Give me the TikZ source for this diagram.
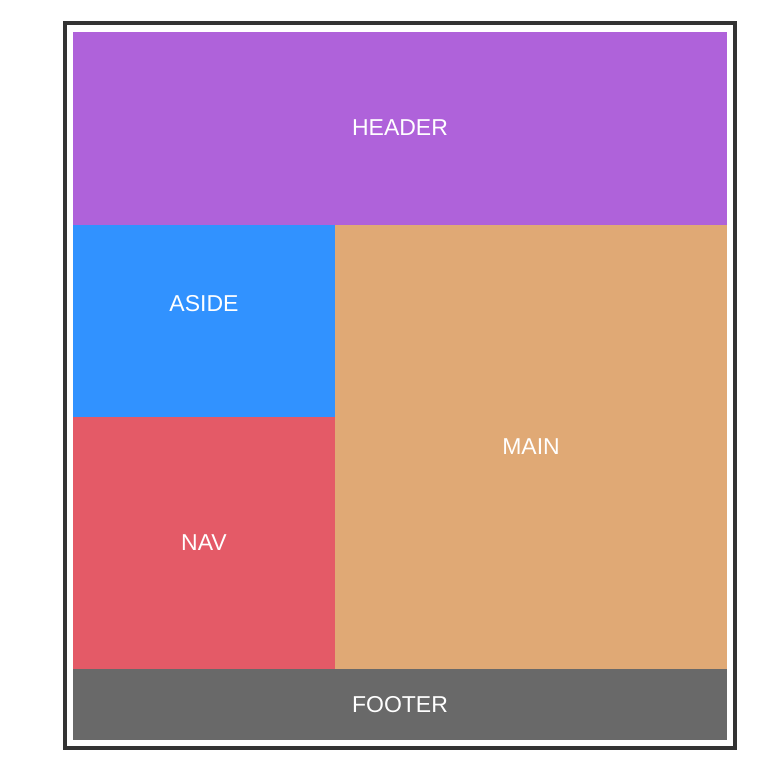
\documentclass[tikz,border=0pt]{standalone}
\usepackage{fontspec}
\setmainfont{Liberation Sans}
\definecolor{hdr}{HTML}{AF62DA}
\definecolor{asd}{HTML}{3192FF}
\definecolor{mn}{HTML}{E0A975}
\definecolor{nv}{HTML}{E45A67}
\definecolor{ft}{HTML}{696969}
\definecolor{brd}{HTML}{333333}
\begin{document}
\begin{tikzpicture}[x=1pt,y=-1pt,
  area/.style={draw=none,inner sep=0pt,text=white,font=\fontsize{23}{27}\selectfont}]
\useasboundingbox[fill=white] (0,0) rectangle (774,774);
\draw[brd,line width=4.5pt] (65,23) rectangle (735,748);
\fill[hdr] (73,32) rectangle (727,225);
\fill[asd] (73,225) rectangle (335,417);
\fill[nv] (73,417) rectangle (335,669);
\fill[mn] (335,225) rectangle (727,669);
\fill[ft] (73,669) rectangle (727,740);
\node[area] (header) at (400,127.5) {HEADER};
\node[area] (aside) at (204,304) {ASIDE};
\node[area] (nav) at (204,543) {NAV};
\node[area] (main) at (531,446.5) {MAIN};
\node[area] (footer) at (400,704.5) {FOOTER};
\end{tikzpicture}
\end{document}
